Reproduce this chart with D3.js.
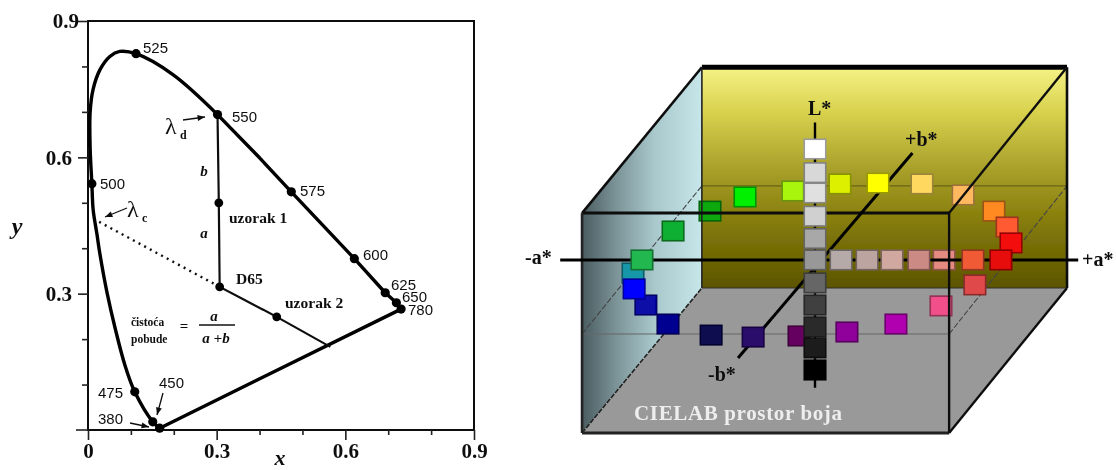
<!DOCTYPE html>
<html>
<head>
<meta charset="UTF-8">
<title>CIE xy i CIELAB</title>
<script src="https://d3js.org/d3.v7.min.js"></script>
<style>
	html, body { margin: 0; padding: 0; background: #fff; }
	svg { display: block; }
	text { fill: #111; font-family: "Liberation Serif", serif; font-weight: bold; }
	.nm { font-family: "Liberation Sans", sans-serif; font-weight: normal; font-size: 15px; }
</style>
</head>
<body>
<div id="svg-container"></div>
<script type="text/javascript">
// ---- left chart: chromaticity diagram
const majorTicks = [0, 0.3, 0.6, 0.9];
const minorTicks = [0.1, 0.2, 0.4, 0.5, 0.7, 0.8];

const locusX = [0.167, 0.151, 0.109, 0.086, 0.063, 0.044, 0.028, 0.021, 0.012, 0.009, 0.005, 0.005, 0.012, 0.028, 0.051, 0.074, 0.112, 0.198, 0.302];
const locusY = [0.004, 0.018, 0.084, 0.143, 0.225, 0.304, 0.386, 0.430, 0.485, 0.542, 0.620, 0.700, 0.750, 0.793, 0.822, 0.833, 0.828, 0.782, 0.694];
const edgeX = [0.302, 0.400, 0.474, 0.621, 0.693, 0.719, 0.730, 0.167];
const edgeY = [0.694, 0.599, 0.524, 0.377, 0.302, 0.280, 0.266, 0.004];

const wavelengths = ["525", "550", "575", "600", "625", "650", "780", "500", "475", "450", "380"];
const waveX = [0.112, 0.302, 0.474, 0.621, 0.693, 0.719, 0.730, 0.009, 0.109, 0.151, 0.167];
const waveY = [0.828, 0.694, 0.524, 0.377, 0.302, 0.280, 0.266, 0.542, 0.084, 0.018, 0.004];

const sampleX = [0.302, 0.305, 0.307, 0.440, 0.565];
const sampleY = [0.694, 0.500, 0.315, 0.249, 0.183];
const dottedX = [0.026, 0.307];
const dottedY = [0.458, 0.315];
const dotX = [0.305, 0.307, 0.440];
const dotY = [0.500, 0.315, 0.249];

// ---- right chart: CIELAB colour squares, in a* and L* units
const ringA = [-65, -37.5, -25, -7.9, 8.9, 22.5, 38.2, 52.9, 63.9, 68.6, 70, 9.3, 18.6, 27.5, 37.1, 46.1, 56.4, 57.1, 66.4, 45, 28.9, 11.4, -5.7, -22.1, -37.1, -52.5, -60.4, -64.6, -61.8, -50.7];
const ringL = [43.9, 71.9, 78.3, 81, 84.2, 84.6, 84.2, 79.2, 71.9, 64.7, 57.5, 49.8, 49.8, 49.8, 49.8, 49.8, 49.8, 38.5, 49.8, 29, 20.8, 17.2, 15.4, 14.9, 15.8, 20.8, 29.4, 36.7, 49.8, 62.9];
const ringColor = ["#1898a8", "#0aa80f", "#00f000", "#aaf510", "#dcf000", "#ffff00", "#ffd860", "#ffb860", "#ff8a20", "#ff5a30", "#f40a0a", "#b5aaa8", "#bca5a0", "#d0a8a0", "#cc8a85", "#e58a80", "#f05a35", "#e04848", "#e80808", "#f0508a", "#b000b0", "#90009a", "#660060", "#2a0a6a", "#0a0a50", "#000090", "#0808a8", "#0000ff", "#20b850", "#0cb030"];
const underFrame = ["#0aa80f", "#ffb860", "#e58a80", "#f0508a"];

const greyL = [100, 89.3, 80.1, 69.6, 59.5, 49.8, 39.4, 29.4, 19.5, 10, 0];
const greyColor = ["#ffffff", "#d8d8d8", "#e0e0e0", "#d0d0d0", "#a8a8a8", "#989898", "#666666", "#404040", "#2c2c2c", "#1c1c1c", "#000000"];

// box corners, a* and L*
const frontA = [-83.2, 47.9], frontL = [-28.5, 71];
const backA = [-40.4, 90], backL = [37.1, 137];
const midBackL = 83.3, midFrontL = 16.3;
const axisA = [-91, 94];
const axisBA = [-27.5, 34.8], axisBL = [5.4, 98.2];
const axisLL = [-8, 112];

const width = 1116, height = 470;

let svg = d3.select("#svg-container")
	.append("svg")
	.attr("width", width)
	.attr("height", height);

let defs = svg.append("defs");
defs.append("filter").attr("id", "soft")
	.attr("filterUnits", "userSpaceOnUse")
	.attr("x", 0).attr("y", 0).attr("width", width).attr("height", height)
	.append("feGaussianBlur").attr("stdDeviation", 0.7);

function gradient(id, vertical, stops) {
	let g = defs.append("linearGradient").attr("id", id)
		.attr("x1", 0).attr("y1", 0)
		.attr("x2", vertical ? 0 : 1).attr("y2", vertical ? 1 : 0);
	stops.forEach(s => g.append("stop").attr("offset", s[0]).attr("stop-color", s[1]));
}
gradient("backWall", true, [[0, "#f6f286"], [0.2, "#d8d24e"], [0.45, "#aaa22c"], [0.7, "#857c0a"], [1, "#5c5400"]]);
gradient("leftWall", false, [[0, "#4a5c60"], [0.3, "#7e969a"], [0.6, "#a8c8cc"], [1, "#c6e6ea"]]);

let root = svg.append("g").attr("filter", "url(#soft)");

// ---------- left chart
let x = d3.scaleLinear().domain([0, 0.9]).range([88, 474]);
let y = d3.scaleLinear().domain([0, 0.9]).range([430, 21]);

let left = root.append("g");

left.append("rect")
	.attr("x", x(0)).attr("y", y(0.9))
	.attr("width", x(0.9) - x(0)).attr("height", y(0) - y(0.9))
	.attr("fill", "none").attr("stroke", "#111").attr("stroke-width", 2);

function axisStyle(g) {
	g.select(".domain").remove();
	g.selectAll("line").attr("stroke", "#222").attr("stroke-width", 1.6);
	g.selectAll("text").attr("font-size", 21).attr("fill", "#111")
		.attr("font-family", "Liberation Serif").attr("font-weight", "bold");
}

left.append("g").attr("transform", `translate(0,${y(0)})`)
	.call(d3.axisBottom(x).tickValues(majorTicks).tickSize(10).tickPadding(3).tickFormat(d => d === 0 ? "0" : d3.format(".1f")(d)))
	.call(axisStyle);
left.append("g").attr("transform", `translate(0,${y(0)})`)
	.call(d3.axisBottom(x).tickValues(minorTicks).tickSize(5).tickFormat(""))
	.call(axisStyle);
left.append("g").attr("transform", `translate(${x(0)},0)`)
	.call(d3.axisLeft(y).tickValues(majorTicks.slice(1)).tickSize(10).tickPadding(6).tickFormat(d3.format(".1f")))
	.call(axisStyle)
	.selectAll("text").attr("dx", d => d === 0.9 ? 7 : 0);
left.append("g").attr("transform", `translate(${x(0)},0)`)
	.call(d3.axisLeft(y).tickValues(minorTicks).tickSize(6).tickFormat(""))
	.call(axisStyle);
// zero tick of the y axis sits on the bottom frame line
left.append("line").attr("x1", x(0) - 12).attr("x2", x(0)).attr("y1", y(0)).attr("y2", y(0))
	.attr("stroke", "#222").attr("stroke-width", 1.6);

let line = d3.line().x(d => x(d[0])).y(d => y(d[1]));

left.append("path")
	.attr("d", line.curve(d3.curveCatmullRom)(d3.zip(locusX, locusY)))
	.attr("fill", "none").attr("stroke", "#000").attr("stroke-width", 3.4);
left.append("path")
	.attr("d", line.curve(d3.curveLinear)(d3.zip(edgeX, edgeY)))
	.attr("fill", "none").attr("stroke", "#000").attr("stroke-width", 3.4).attr("stroke-linejoin", "round");
left.append("path")
	.attr("d", line(d3.zip(sampleX, sampleY)))
	.attr("fill", "none").attr("stroke", "#111").attr("stroke-width", 2.2);
left.append("path")
	.attr("d", line(d3.zip(dottedX, dottedY)))
	.attr("fill", "none").attr("stroke", "#111").attr("stroke-width", 2.4).attr("stroke-dasharray", "2 4.4");

left.selectAll("circle.w").data(d3.zip(waveX, waveY)).join("circle")
	.attr("class", "w").attr("cx", d => x(d[0])).attr("cy", d => y(d[1])).attr("r", 4.6).attr("fill", "#000");
left.selectAll("circle.s").data(d3.zip(dotX, dotY)).join("circle")
	.attr("class", "s").attr("cx", d => x(d[0])).attr("cy", d => y(d[1])).attr("r", 4.4).attr("fill", "#000");

function label(parent, str, px, py, size, opts) {
	opts = opts || {};
	return parent.append("text").attr("x", px).attr("y", py)
		.attr("font-size", size)
		.attr("text-anchor", opts.anchor || "start")
		.attr("font-style", opts.italic ? "italic" : "normal")
		.attr("class", opts.cls || null)
		.text(str);
}

// wavelength labels
const waveLabelX = [143, 232, 300, 363, 391, 402, 408, 100, 98, 159, 98];
const waveLabelY = [53, 122, 196, 260, 290, 302, 315, 189, 398, 388, 424];
wavelengths.forEach((w, i) => label(left, w, waveLabelX[i], waveLabelY[i], 15, { cls: "nm" }));

label(left, "x", 280, 465, 22, { anchor: "middle", italic: true });
label(left, "y", 17, 234, 24, { anchor: "middle", italic: true });

label(left, "λ", 165, 134, 24).style("font-weight", "normal");
label(left, "d", 180, 139, 12);
label(left, "λ", 127, 217, 24).style("font-weight", "normal");
label(left, "c", 142, 222, 12);
label(left, "b", 204, 176, 15, { anchor: "middle", italic: true });
label(left, "a", 204, 238, 15, { anchor: "middle", italic: true });
label(left, "uzorak 1", 229, 223, 15.5);
label(left, "D65", 236, 284, 15.5);
label(left, "uzorak 2", 285, 308, 15.5);
label(left, "čistoća", 131, 326, 11.5);
label(left, "pobude", 131, 343, 11.5);
label(left, "=", 184, 331, 15, { anchor: "middle" });
label(left, "a", 214, 321, 15, { anchor: "middle", italic: true });
label(left, "a +b", 216, 343, 15, { anchor: "middle", italic: true });
left.append("line").attr("x1", 199).attr("x2", 235).attr("y1", 325).attr("y2", 325)
	.attr("stroke", "#111").attr("stroke-width", 1.4);

// small arrows: [x1, y1, x2, y2] in page pixels of the annotation
const arrows = [[183, 120, 205, 117], [127, 208, 105, 217], [163, 393, 157, 415], [130, 423, 149, 427]];
arrows.forEach(a => {
	let ang = Math.atan2(a[3] - a[1], a[2] - a[0]);
	left.append("line").attr("x1", a[0]).attr("y1", a[1]).attr("x2", a[2]).attr("y2", a[3])
		.attr("stroke", "#111").attr("stroke-width", 1.3);
	let head = [-0.38, 0.38].map(t => [a[2] - 8 * Math.cos(ang + t), a[3] - 8 * Math.sin(ang + t)]);
	left.append("path")
		.attr("d", `M${a[2]},${a[3]}L${head[0]}L${head[1]}Z`)
		.attr("fill", "#111");
});

// ---------- right chart
let ax = d3.scaleLinear().domain([-100, 100]).range([535, 1095]);
let ly = d3.scaleLinear().domain([0, 100]).range([370, 149]);

let right = root.append("g");
let pts = (as, ls) => as.map((a, i) => [ax(a), ly(ls[i])].join(",")).join(" ");

right.append("polygon")
	.attr("points", pts([backA[0], backA[1], backA[1], backA[0]], [backL[1], backL[1], backL[0], backL[0]]))
	.attr("fill", "url(#backWall)");
right.append("polygon")
	.attr("points", pts([frontA[0], backA[0], backA[0], frontA[0]], [frontL[1], backL[1], backL[0], frontL[0]]))
	.attr("fill", "url(#leftWall)");
right.append("polygon")
	.attr("points", pts([frontA[0], backA[0], backA[1], frontA[1]], [frontL[0], backL[0], backL[0], frontL[0]]))
	.attr("fill", "#999999");

function seg(parent, a1, l1, a2, l2, w, color, dash) {
	return parent.append("line")
		.attr("x1", ax(a1)).attr("y1", ly(l1)).attr("x2", ax(a2)).attr("y2", ly(l2))
		.attr("stroke", color).attr("stroke-width", w)
		.attr("stroke-dasharray", dash || null);
}

// thin lines round the a*-b* plane
seg(right, backA[0], midBackL, backA[1], midBackL, 1, "#5c5610");
seg(right, frontA[0], midFrontL, frontA[1], midFrontL, 1, "#666");
seg(right, frontA[0], midFrontL, backA[0], midBackL, 1.1, "#444", "6 2");
seg(right, frontA[1], midFrontL, backA[1], midBackL, 1.1, "#444", "6 2");

function squares(parent, rows) {
	parent.selectAll("rect").data(rows).join("rect")
		.attr("x", d => ax(d.a) - 10.75).attr("y", d => ly(d.l) - 9.75)
		.attr("width", 21.5).attr("height", 19.5)
		.attr("fill", d => d.c)
		.attr("stroke", d => d3.color(d.c).darker(1.4).formatHex())
		.attr("stroke-width", 1.6);
}

let ring = ringA.map((a, i) => ({ a: a, l: ringL[i], c: ringColor[i] }));
squares(right.append("g"), ring.filter(d => underFrame.includes(d.c)));

// back wall edges
seg(right, backA[0], backL[1], backA[1], backL[1], 5, "#000");
seg(right, backA[1], backL[1], backA[1], backL[0], 2.6, "#111");
seg(right, backA[0], backL[1], backA[0], backL[0], 1.6, "#222");
seg(right, backA[0], backL[0], backA[1], backL[0], 1, "#333");
// side edges
seg(right, frontA[0], frontL[1], backA[0], backL[1], 2.6, "#111");
seg(right, frontA[1], frontL[1], backA[1], backL[1], 2.4, "#111");
seg(right, frontA[0], frontL[0], backA[0], backL[0], 1.6, "#222", "5 1.5");
seg(right, frontA[1], frontL[0], backA[1], backL[0], 2.4, "#111");
// front face
seg(right, frontA[0], frontL[1], frontA[1], frontL[1], 3, "#0a0a0a");
seg(right, frontA[0], frontL[0], frontA[1], frontL[0], 3, "#222");
seg(right, frontA[0], frontL[0], frontA[0], frontL[1], 2.6, "#222");
seg(right, frontA[1], frontL[0], frontA[1], frontL[1], 2.4, "#111");

// axes
seg(right, axisA[0], 49.8, axisA[1], 49.8, 3, "#000");
seg(right, axisBA[0], axisBL[0], axisBA[1], axisBL[1], 3, "#000");
seg(right, 0, axisLL[0], 0, axisLL[1], 2.4, "#000");

squares(right.append("g"), ring.filter(d => !underFrame.includes(d.c)));
squares(right.append("g"), greyL.map((l, i) => ({ a: 0, l: l, c: greyColor[i] })));

label(right, "L*", 808, 115, 20);
label(right, "+b*", 905, 146, 20);
label(right, "-b*", 708, 381, 20);
label(right, "-a*", 525, 264, 20);
label(right, "+a*", 1082, 266, 20);
label(right, "CIELAB prostor boja", 634, 420, 21).attr("textLength", 208).style("fill", "#eeeeee");
</script>
</body>
</html>
